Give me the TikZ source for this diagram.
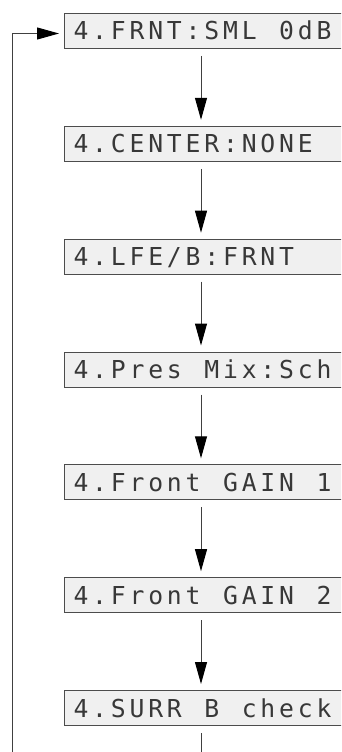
\documentclass[tikz,border=0pt]{standalone}
\usepackage{fontspec}
\newfontfamily\lcdfont{DejaVu Sans Mono}
\usetikzlibrary{arrows.meta}
\makeatletter
\newcommand\lcdstr[1]{\@tfor\lcd@c:=#1\do{\makebox[18.7pt][l]{\lcd@c}}}
\makeatother
\tikzset{
  lcd/.style={draw=black!70, line width=1pt, fill=black!6, anchor=north west,
    minimum width=284pt, minimum height=35pt, inner xsep=9pt, inner ysep=0pt,
    text width=266pt, align=left, text height=18pt, text depth=0pt,
    font=\lcdfont\fontsize{24.7pt}{24.7pt}\selectfont, text=black!78},
  conn/.style={draw=black!75, line width=1pt},
  arr/.style={conn, -{Triangle[length=22pt,width=12pt,fill=black,color=black]}}
}
\begin{document}
\begin{tikzpicture}[x=1pt,y=-1pt]
\useasboundingbox (0,0) rectangle (341,752);
\clip (0,0) rectangle (341,752);
\coordinate (ax) at (201,0);
\node[lcd] (b1) at (64,13) {\lcdstr{4.FRNT:SML~0dB}};
\node[lcd] (b2) at (64,125.8) {\lcdstr{4.CENTER:NONE}};
\node[lcd] (b3) at (64,238.7) {\lcdstr{4.LFE/B:FRNT}};
\node[lcd] (b4) at (64,351.5) {\lcdstr{4.Pres~Mix:Sch}};
\node[lcd] (b5) at (64,464.3) {\lcdstr{4.Front~GAIN~1}};
\node[lcd] (b6) at (64,577.2) {\lcdstr{4.Front~GAIN~2}};
\node[lcd] (b7) at (64,690) {\lcdstr{4.SURR~B~check}};
\foreach \a/\b in {b1/b2,b2/b3,b3/b4,b4/b5,b5/b6,b6/b7}{
  \draw[arr, shorten <=7pt, shorten >=6pt] (\a.south -| ax) -- (\b.north -| ax);
}
\coordinate (bot) at (201,752);
\draw[conn, shorten <=7pt] (b7.south -| ax) -- (bot);
\coordinate (loopbot) at (12,752);
\draw[arr, shorten >=5pt] (loopbot) |- ([yshift=-2.5pt]b1.west);
\end{tikzpicture}
\end{document}
